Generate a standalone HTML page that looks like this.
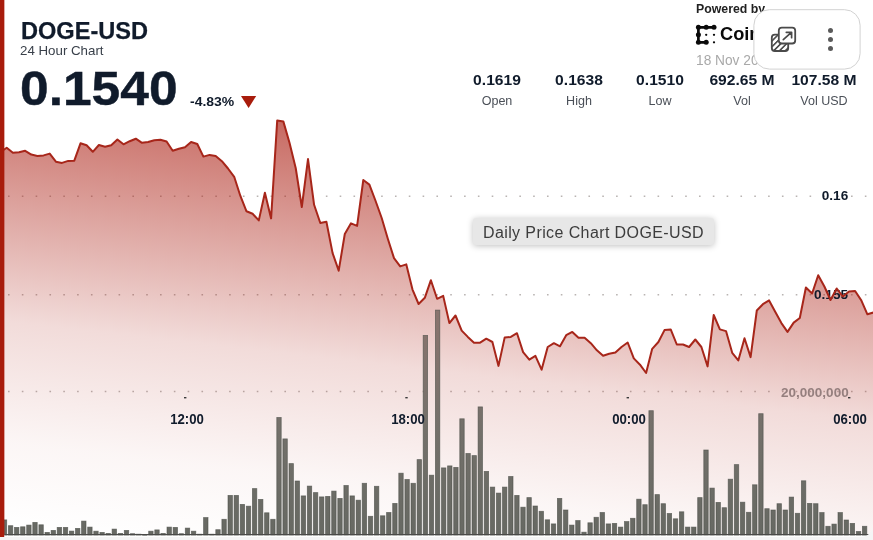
<!DOCTYPE html>
<html lang="en"><head><meta charset="utf-8"><title>DOGE-USD 24 Hour Chart</title>
<style>
html,body{margin:0;padding:0}
body{width:873px;height:540px;overflow:hidden;background:#f5f5f5;position:relative;font-family:"Liberation Sans",sans-serif;color:#101b2b}
.t{position:absolute;white-space:nowrap;line-height:1;transform-origin:0 0}
.b{font-weight:bold}
.c{text-align:center;transform-origin:50% 0}
#tip{position:absolute;left:473px;top:218px;width:241px;height:27px;box-sizing:border-box;background:#e7e7e7;border-radius:3px;box-shadow:0 1px 6px rgba(0,0,0,.25);color:#3c3c3c;font-size:16px;line-height:30.8px;text-align:center;letter-spacing:.4px}
</style></head><body>
<svg width="873" height="540" viewBox="0 0 873 540" style="position:absolute;left:0;top:0">
<defs>
<linearGradient id="ag" x1="116.9" y1="60" x2="62.3" y2="535" gradientUnits="userSpaceOnUse">
<stop offset="0" stop-color="#ac2014" stop-opacity="0.80"/>
<stop offset="0.1263" stop-color="#ac2014" stop-opacity="0.625"/>
<stop offset="0.5684" stop-color="#ac2014" stop-opacity="0.16"/>
<stop offset="0.8209" stop-color="#ac2014" stop-opacity="0.04"/>
<stop offset="1" stop-color="#ac2014" stop-opacity="0.0"/>
</linearGradient>
<linearGradient id="bg" x1="0" y1="310" x2="0" y2="535" gradientUnits="userSpaceOnUse"><stop offset="0" stop-color="#8a746e"/><stop offset="0.55" stop-color="#73706a"/><stop offset="1" stop-color="#676963"/></linearGradient>
<clipPath id="card"><path d="M0,0H873V525a12,12 0 0 1 -12,12H0Z"/></clipPath>
<pattern id="hatch" width="4.1" height="4.1" patternUnits="userSpaceOnUse" patternTransform="rotate(-45)"><rect width="4.1" height="1.6" fill="#4a4a4a"/></pattern>
</defs>
<g clip-path="url(#card)">
<rect x="0" y="0" width="873" height="537" fill="#ffffff"/>
<line x1="8" x2="873" y1="196.2" y2="196.2" stroke="#b9b4b2" stroke-width="1.6" stroke-dasharray="1.6 12.22" /><line x1="8" x2="873" y1="294.7" y2="294.7" stroke="#b9b4b2" stroke-width="1.6" stroke-dasharray="1.6 12.22" /><line x1="8" x2="873" y1="391.5" y2="391.5" stroke="#b9b4b2" stroke-width="1.6" stroke-dasharray="1.6 12.22" />
<path d="M0.6,152.0 L6.7,147.8 L12.9,152.8 L19.0,152.3 L25.2,150.8 L31.3,154.6 L37.4,155.9 L43.6,155.4 L49.7,153.6 L55.9,161.7 L62.0,162.9 L68.2,160.9 L74.3,160.7 L80.5,143.3 L86.6,145.3 L92.8,151.8 L98.9,145.0 L105.1,146.8 L111.2,145.3 L117.4,139.5 L123.5,144.3 L129.7,141.2 L135.8,138.7 L142.0,142.8 L148.1,142.0 L154.3,140.2 L160.4,139.7 L166.6,141.5 L172.7,150.8 L178.9,148.8 L185.0,147.3 L191.1,142.0 L197.3,144.0 L203.4,156.6 L209.6,154.9 L215.7,155.9 L221.9,161.2 L228.0,168.5 L234.2,176.8 L240.3,195.7 L246.5,211.3 L252.6,213.8 L258.8,220.4 L264.9,192.7 L271.1,218.4 L277.2,120.6 L283.4,121.6 L289.5,142.8 L295.7,168.0 L301.8,207.0 L308.0,159.1 L314.1,204.8 L320.3,223.0 L326.4,221.8 L332.6,253.1 L338.7,270.7 L344.8,234.0 L351.0,223.3 L357.1,225.9 L363.3,180.0 L369.4,184.6 L375.6,201.0 L381.7,218.0 L387.9,239.0 L394.0,258.1 L400.2,266.4 L406.3,264.4 L412.5,289.6 L418.6,304.0 L424.8,297.8 L430.9,280.2 L437.1,298.8 L443.2,295.9 L449.4,323.1 L455.5,315.5 L461.7,330.6 L467.8,336.9 L474.0,342.7 L480.1,342.7 L486.3,338.7 L492.4,342.0 L498.5,365.9 L504.7,337.4 L510.8,336.9 L517.0,333.2 L523.1,352.1 L529.3,359.6 L535.4,355.8 L541.6,369.7 L547.7,347.0 L553.9,343.2 L560.0,346.3 L566.2,335.2 L572.3,331.9 L578.5,337.7 L584.6,337.7 L590.8,343.2 L596.9,350.3 L603.1,355.8 L609.2,353.8 L615.4,352.6 L621.5,347.0 L627.7,342.5 L633.8,358.4 L640.0,364.7 L646.1,373.0 L652.2,348.8 L658.4,342.0 L664.5,330.1 L670.7,329.4 L676.8,344.5 L683.0,344.5 L689.1,347.0 L695.3,339.5 L701.4,347.0 L707.6,366.4 L713.7,315.0 L719.9,329.4 L726.0,331.1 L732.2,352.8 L738.3,360.4 L744.5,338.2 L750.6,357.1 L756.8,310.5 L762.9,304.2 L769.1,300.4 L775.2,311.7 L781.4,323.1 L787.5,331.9 L793.7,322.6 L799.8,318.0 L805.9,287.5 L812.1,293.5 L818.2,275.2 L824.4,286.5 L830.5,300.0 L836.7,288.5 L842.8,296.5 L849.0,291.5 L855.1,291.0 L861.3,300.4 L867.4,314.3 L873.6,312.4 L873.6,535.0 L0.6,535.0 Z" fill="url(#ag)"/>
<g fill="url(#bg)" stroke="#4c4e49" stroke-opacity="0.7" stroke-width="0.8"><rect x="2.3" y="519.9" width="4.4" height="15.1"/><rect x="8.4" y="525.7" width="4.4" height="9.3"/><rect x="14.5" y="527.4" width="4.4" height="7.6"/><rect x="20.6" y="526.8" width="4.4" height="8.2"/><rect x="26.7" y="525.1" width="4.4" height="9.9"/><rect x="32.8" y="522.4" width="4.4" height="12.6"/><rect x="38.9" y="524.8" width="4.4" height="10.2"/><rect x="45.0" y="532.4" width="4.4" height="2.6"/><rect x="51.1" y="530.4" width="4.4" height="4.6"/><rect x="57.2" y="527.4" width="4.4" height="7.6"/><rect x="63.3" y="527.4" width="4.4" height="7.6"/><rect x="69.4" y="531.1" width="4.4" height="3.9"/><rect x="75.5" y="528.4" width="4.4" height="6.6"/><rect x="81.6" y="521.1" width="4.4" height="13.9"/><rect x="87.7" y="527.1" width="4.4" height="7.9"/><rect x="93.8" y="531.2" width="4.4" height="3.8"/><rect x="99.9" y="532.4" width="4.4" height="2.6"/><rect x="106.0" y="533.4" width="4.4" height="1.6"/><rect x="112.1" y="529.1" width="4.4" height="5.9"/><rect x="118.2" y="533.4" width="4.4" height="1.6"/><rect x="124.3" y="530.4" width="4.4" height="4.6"/><rect x="130.4" y="533.7" width="4.4" height="1.3"/><rect x="136.5" y="534.2" width="4.4" height="0.8"/><rect x="142.6" y="534.9" width="4.4" height="0.3"/><rect x="148.7" y="531.2" width="4.4" height="3.8"/><rect x="154.8" y="529.9" width="4.4" height="5.1"/><rect x="160.9" y="533.4" width="4.4" height="1.6"/><rect x="167.0" y="527.1" width="4.4" height="7.9"/><rect x="173.1" y="527.4" width="4.4" height="7.6"/><rect x="179.2" y="533.7" width="4.4" height="1.3"/><rect x="185.3" y="528.1" width="4.4" height="6.9"/><rect x="191.4" y="531.2" width="4.4" height="3.8"/><rect x="197.5" y="534.2" width="4.4" height="0.8"/><rect x="203.6" y="517.6" width="4.4" height="17.4"/><rect x="209.7" y="534.2" width="4.4" height="0.8"/><rect x="215.8" y="529.7" width="4.4" height="5.3"/><rect x="221.9" y="519.3" width="4.4" height="15.7"/><rect x="228.0" y="495.4" width="4.4" height="39.6"/><rect x="234.1" y="495.4" width="4.4" height="39.6"/><rect x="240.2" y="504.4" width="4.4" height="30.6"/><rect x="246.3" y="506.2" width="4.4" height="28.8"/><rect x="252.4" y="488.6" width="4.4" height="46.4"/><rect x="258.5" y="499.4" width="4.4" height="35.6"/><rect x="264.6" y="512.8" width="4.4" height="22.2"/><rect x="270.7" y="519.3" width="4.4" height="15.7"/><rect x="276.8" y="417.5" width="4.4" height="117.5"/><rect x="282.9" y="438.9" width="4.4" height="96.1"/><rect x="289.0" y="463.6" width="4.4" height="71.4"/><rect x="295.1" y="481.0" width="4.4" height="54.0"/><rect x="301.2" y="495.9" width="4.4" height="39.1"/><rect x="307.3" y="486.1" width="4.4" height="48.9"/><rect x="313.4" y="492.6" width="4.4" height="42.4"/><rect x="319.5" y="496.9" width="4.4" height="38.1"/><rect x="325.6" y="496.4" width="4.4" height="38.6"/><rect x="331.7" y="491.1" width="4.4" height="43.9"/><rect x="337.8" y="498.4" width="4.4" height="36.6"/><rect x="343.9" y="485.5" width="4.4" height="49.5"/><rect x="350.0" y="495.9" width="4.4" height="39.1"/><rect x="356.1" y="500.2" width="4.4" height="34.8"/><rect x="362.2" y="483.3" width="4.4" height="51.7"/><rect x="368.3" y="516.3" width="4.4" height="18.7"/><rect x="374.4" y="486.3" width="4.4" height="48.7"/><rect x="380.5" y="515.8" width="4.4" height="19.2"/><rect x="386.6" y="512.5" width="4.4" height="22.5"/><rect x="392.7" y="503.4" width="4.4" height="31.6"/><rect x="398.8" y="473.2" width="4.4" height="61.8"/><rect x="404.9" y="479.5" width="4.4" height="55.5"/><rect x="411.0" y="483.3" width="4.4" height="51.7"/><rect x="417.1" y="459.6" width="4.4" height="75.4"/><rect x="423.2" y="335.4" width="4.4" height="199.6"/><rect x="429.3" y="475.2" width="4.4" height="59.8"/><rect x="435.4" y="310.1" width="4.4" height="224.9"/><rect x="441.5" y="467.9" width="4.4" height="67.1"/><rect x="447.6" y="465.9" width="4.4" height="69.1"/><rect x="453.7" y="467.4" width="4.4" height="67.6"/><rect x="459.8" y="418.8" width="4.4" height="116.2"/><rect x="465.9" y="453.5" width="4.4" height="81.5"/><rect x="472.0" y="455.6" width="4.4" height="79.4"/><rect x="478.1" y="406.9" width="4.4" height="128.1"/><rect x="484.2" y="471.4" width="4.4" height="63.6"/><rect x="490.3" y="487.1" width="4.4" height="47.9"/><rect x="496.4" y="493.1" width="4.4" height="41.9"/><rect x="502.5" y="487.1" width="4.4" height="47.9"/><rect x="508.6" y="476.5" width="4.4" height="58.5"/><rect x="514.7" y="495.4" width="4.4" height="39.6"/><rect x="520.8" y="507.2" width="4.4" height="27.8"/><rect x="526.9" y="497.6" width="4.4" height="37.4"/><rect x="533.0" y="506.0" width="4.4" height="29.0"/><rect x="539.1" y="511.3" width="4.4" height="23.7"/><rect x="545.2" y="519.8" width="4.4" height="15.2"/><rect x="551.3" y="523.9" width="4.4" height="11.1"/><rect x="557.4" y="498.4" width="4.4" height="36.6"/><rect x="563.5" y="510.0" width="4.4" height="25.0"/><rect x="569.6" y="525.1" width="4.4" height="9.9"/><rect x="575.7" y="520.6" width="4.4" height="14.4"/><rect x="581.8" y="532.2" width="4.4" height="2.8"/><rect x="587.9" y="522.8" width="4.4" height="12.2"/><rect x="594.0" y="517.3" width="4.4" height="17.7"/><rect x="600.1" y="512.5" width="4.4" height="22.5"/><rect x="606.2" y="523.9" width="4.4" height="11.1"/><rect x="612.3" y="523.4" width="4.4" height="11.6"/><rect x="618.4" y="527.1" width="4.4" height="7.9"/><rect x="624.5" y="521.6" width="4.4" height="13.4"/><rect x="630.6" y="518.3" width="4.4" height="16.7"/><rect x="636.7" y="499.2" width="4.4" height="35.8"/><rect x="642.8" y="504.7" width="4.4" height="30.3"/><rect x="648.9" y="410.7" width="4.4" height="124.3"/><rect x="655.0" y="494.6" width="4.4" height="40.4"/><rect x="661.1" y="503.7" width="4.4" height="31.3"/><rect x="667.2" y="513.5" width="4.4" height="21.5"/><rect x="673.3" y="518.8" width="4.4" height="16.2"/><rect x="679.4" y="511.8" width="4.4" height="23.2"/><rect x="685.5" y="527.1" width="4.4" height="7.9"/><rect x="691.6" y="527.1" width="4.4" height="7.9"/><rect x="697.7" y="497.6" width="4.4" height="37.4"/><rect x="703.8" y="450.0" width="4.4" height="85.0"/><rect x="709.9" y="488.1" width="4.4" height="46.9"/><rect x="716.0" y="502.4" width="4.4" height="32.6"/><rect x="722.1" y="507.7" width="4.4" height="27.3"/><rect x="728.2" y="479.2" width="4.4" height="55.8"/><rect x="734.3" y="464.6" width="4.4" height="70.4"/><rect x="740.4" y="502.2" width="4.4" height="32.8"/><rect x="746.5" y="512.3" width="4.4" height="22.7"/><rect x="752.6" y="484.8" width="4.4" height="50.2"/><rect x="758.7" y="413.7" width="4.4" height="121.3"/><rect x="764.8" y="508.7" width="4.4" height="26.3"/><rect x="770.9" y="510.0" width="4.4" height="25.0"/><rect x="777.0" y="503.7" width="4.4" height="31.3"/><rect x="783.1" y="510.0" width="4.4" height="25.0"/><rect x="789.2" y="497.1" width="4.4" height="37.9"/><rect x="795.3" y="513.3" width="4.4" height="21.7"/><rect x="801.4" y="480.8" width="4.4" height="54.2"/><rect x="807.5" y="503.4" width="4.4" height="31.6"/><rect x="813.6" y="503.7" width="4.4" height="31.3"/><rect x="819.7" y="512.6" width="4.4" height="22.4"/><rect x="825.8" y="526.3" width="4.4" height="8.7"/><rect x="831.9" y="524.1" width="4.4" height="10.9"/><rect x="838.0" y="512.6" width="4.4" height="22.4"/><rect x="844.1" y="520.0" width="4.4" height="15.0"/><rect x="850.2" y="523.4" width="4.4" height="11.6"/><rect x="856.3" y="531.5" width="4.4" height="3.5"/><rect x="862.4" y="526.3" width="4.4" height="8.7"/></g>
<g fill="#3a3a3a"><rect x="184" y="397" width="2.4" height="1.4"/><rect x="405.3" y="397" width="2.4" height="1.4"/><rect x="626.6" y="397" width="2.4" height="1.4"/><rect x="848" y="397" width="2.4" height="1.4"/></g>
<rect x="5" y="534" width="868" height="1.2" fill="#4a4a48"/><rect x="0" y="0" width="4.2" height="537" fill="#a81c0c"/>
</g>
</svg>
<div class="t b" id="title" style="left:20.7px;top:19.5px;font-size:23px;transform:scaleX(1.025);-webkit-text-stroke:0.25px #101b2b">DOGE-USD</div>
<div class="t" id="sub" style="left:20px;top:43.5px;font-size:13.3px;color:#39404a">24 Hour Chart</div>
<div class="t b" id="price" style="left:20px;top:64.3px;font-size:48.6px;transform:scaleX(1.06);-webkit-text-stroke:0.45px #101b2b">0.1540</div>
<div class="t b" id="chg" style="left:190.4px;top:94.6px;font-size:13.7px;transform:scaleX(1.02)">-4.83%</div>
<svg style="position:absolute;left:240px;top:94px" width="18" height="16" viewBox="240 94 18 16"><path d="M241,95.9H256.2L248.6,108Z" fill="#a81c0c"/></svg>

<div class="t b" id="pw" style="left:696px;top:3.4px;font-size:12px;color:#222;transform:scaleX(1.025)">Powered by</div>
<svg style="position:absolute;left:694px;top:23px" width="24" height="24" viewBox="0 0 24 24">
<g stroke="#0a0a0a" stroke-width="2.7" stroke-linecap="round" fill="none"><path d="M20,4.3H4.4V19.3H12.2"/></g>
<g fill="#0a0a0a"><circle cx="4.4" cy="4.3" r="2.5"/><circle cx="12.2" cy="4.3" r="2.5"/><circle cx="20" cy="4.3" r="2.5"/><circle cx="4.4" cy="11.8" r="2.5"/><circle cx="4.4" cy="19.3" r="2.5"/><circle cx="12.2" cy="19.3" r="2.5"/>
<circle cx="12.2" cy="11.8" r="1.15"/><circle cx="20" cy="11.8" r="1.15"/><circle cx="20" cy="19.3" r="1.15"/></g></svg>
<div class="t b" id="cd" style="left:719.6px;top:26.4px;font-size:17.6px;color:#0a0a0a;transform:scaleX(1.035)">CoinDesk</div>
<div class="t" id="date" style="left:695.6px;top:52.6px;font-size:14px;color:#a9a9a9;transform:scaleX(0.98)">18 Nov 2025</div>

<svg id="ov" style="position:absolute;left:750px;top:6px" width="114" height="67" viewBox="750 6 114 67">
<rect x="753.9" y="9.7" width="106.2" height="59.4" rx="15.5" fill="#fff" stroke="#d2d2d2" stroke-width="1"/>
<rect x="771.8" y="34.7" width="16.4" height="16.3" rx="3" fill="url(#hatch)" stroke="#4a4a4a" stroke-width="1.8"/>
<rect x="778.8" y="27.6" width="16.4" height="15.9" rx="3" fill="#fff" stroke="#4a4a4a" stroke-width="1.8"/>
<path d="M783.3,39.6L791.4,32.4M786.3,32.3H791.6V37.7" fill="none" stroke="#4a4a4a" stroke-width="1.7" stroke-linecap="round" stroke-linejoin="round"/>
<g fill="#5a5a5a"><circle cx="830.5" cy="30.4" r="2.5"/><circle cx="830.5" cy="39.6" r="2.5"/><circle cx="830.5" cy="48.6" r="2.5"/></g>
</svg>

<div class="t b c" style="left:457px;width:80px;top:73px;font-size:14.6px;transform:scaleX(1.07)" id="s1">0.1619</div>
<div class="t c" style="left:457px;width:80px;top:93.6px;font-size:13.2px;color:#4b5058;transform:scaleX(0.95)" id="l1">Open</div>
<div class="t b c" style="left:539px;width:80px;top:73px;font-size:14.6px;transform:scaleX(1.07)" id="s2">0.1638</div>
<div class="t c" style="left:539px;width:80px;top:93.6px;font-size:13.2px;color:#4b5058;transform:scaleX(0.95)" id="l2">High</div>
<div class="t b c" style="left:620px;width:80px;top:73px;font-size:14.6px;transform:scaleX(1.07)" id="s3">0.1510</div>
<div class="t c" style="left:620px;width:80px;top:93.6px;font-size:13.2px;color:#4b5058;transform:scaleX(0.95)" id="l3">Low</div>
<div class="t b c" style="left:702px;width:80px;top:73px;font-size:14.6px;transform:scaleX(1.07)" id="s4">692.65 M</div>
<div class="t c" style="left:702px;width:80px;top:93.6px;font-size:13.2px;color:#4b5058;transform:scaleX(0.95)" id="l4">Vol</div>
<div class="t b c" style="left:784px;width:80px;top:73px;font-size:14.6px;transform:scaleX(1.07)" id="s5">107.58 M</div>
<div class="t c" style="left:784px;width:80px;top:93.6px;font-size:13.2px;color:#4b5058;transform:scaleX(0.95)" id="l5">Vol USD</div>

<div class="t b c" style="left:808px;width:54px;top:189.4px;font-size:13.6px" id="g1">0.16</div>
<div class="t b c" style="left:804px;width:54px;top:287.8px;font-size:13.6px" id="g2">0.155</div>
<div class="t b" style="left:781px;top:385.5px;font-size:13.4px;color:#957f7e;transform:scaleX(1.01)" id="g3">20,000,000</div>

<div class="t b c" style="left:156.5px;width:60px;top:412.8px;font-size:13.8px;transform:scaleX(0.955)" id="x1">12:00</div>
<div class="t b c" style="left:377.5px;width:60px;top:412.8px;font-size:13.8px;transform:scaleX(0.955)" id="x2">18:00</div>
<div class="t b c" style="left:598.5px;width:60px;top:412.8px;font-size:13.8px;transform:scaleX(0.955)" id="x3">00:00</div>
<div class="t b c" style="left:819.5px;width:60px;top:412.8px;font-size:13.8px;transform:scaleX(0.955)" id="x4">06:00</div>

<svg width="873" height="540" viewBox="0 0 873 540" style="position:absolute;left:0;top:0;pointer-events:none">
<path d="M0.6,152.0 L6.7,147.8 L12.9,152.8 L19.0,152.3 L25.2,150.8 L31.3,154.6 L37.4,155.9 L43.6,155.4 L49.7,153.6 L55.9,161.7 L62.0,162.9 L68.2,160.9 L74.3,160.7 L80.5,143.3 L86.6,145.3 L92.8,151.8 L98.9,145.0 L105.1,146.8 L111.2,145.3 L117.4,139.5 L123.5,144.3 L129.7,141.2 L135.8,138.7 L142.0,142.8 L148.1,142.0 L154.3,140.2 L160.4,139.7 L166.6,141.5 L172.7,150.8 L178.9,148.8 L185.0,147.3 L191.1,142.0 L197.3,144.0 L203.4,156.6 L209.6,154.9 L215.7,155.9 L221.9,161.2 L228.0,168.5 L234.2,176.8 L240.3,195.7 L246.5,211.3 L252.6,213.8 L258.8,220.4 L264.9,192.7 L271.1,218.4 L277.2,120.6 L283.4,121.6 L289.5,142.8 L295.7,168.0 L301.8,207.0 L308.0,159.1 L314.1,204.8 L320.3,223.0 L326.4,221.8 L332.6,253.1 L338.7,270.7 L344.8,234.0 L351.0,223.3 L357.1,225.9 L363.3,180.0 L369.4,184.6 L375.6,201.0 L381.7,218.0 L387.9,239.0 L394.0,258.1 L400.2,266.4 L406.3,264.4 L412.5,289.6 L418.6,304.0 L424.8,297.8 L430.9,280.2 L437.1,298.8 L443.2,295.9 L449.4,323.1 L455.5,315.5 L461.7,330.6 L467.8,336.9 L474.0,342.7 L480.1,342.7 L486.3,338.7 L492.4,342.0 L498.5,365.9 L504.7,337.4 L510.8,336.9 L517.0,333.2 L523.1,352.1 L529.3,359.6 L535.4,355.8 L541.6,369.7 L547.7,347.0 L553.9,343.2 L560.0,346.3 L566.2,335.2 L572.3,331.9 L578.5,337.7 L584.6,337.7 L590.8,343.2 L596.9,350.3 L603.1,355.8 L609.2,353.8 L615.4,352.6 L621.5,347.0 L627.7,342.5 L633.8,358.4 L640.0,364.7 L646.1,373.0 L652.2,348.8 L658.4,342.0 L664.5,330.1 L670.7,329.4 L676.8,344.5 L683.0,344.5 L689.1,347.0 L695.3,339.5 L701.4,347.0 L707.6,366.4 L713.7,315.0 L719.9,329.4 L726.0,331.1 L732.2,352.8 L738.3,360.4 L744.5,338.2 L750.6,357.1 L756.8,310.5 L762.9,304.2 L769.1,300.4 L775.2,311.7 L781.4,323.1 L787.5,331.9 L793.7,322.6 L799.8,318.0 L805.9,287.5 L812.1,293.5 L818.2,275.2 L824.4,286.5 L830.5,300.0 L836.7,288.5 L842.8,296.5 L849.0,291.5 L855.1,291.0 L861.3,300.4 L867.4,314.3 L873.6,312.4" fill="none" stroke="#a7261a" stroke-width="2" stroke-linejoin="round"/>
<path d="M0,0H4.2V535.3H3.6A3.6,3.6 0 0 1 0,531.7Z" fill="#a81c0c"/>
</svg>
<div id="tip">Daily Price Chart DOGE-USD</div>
</body></html>
